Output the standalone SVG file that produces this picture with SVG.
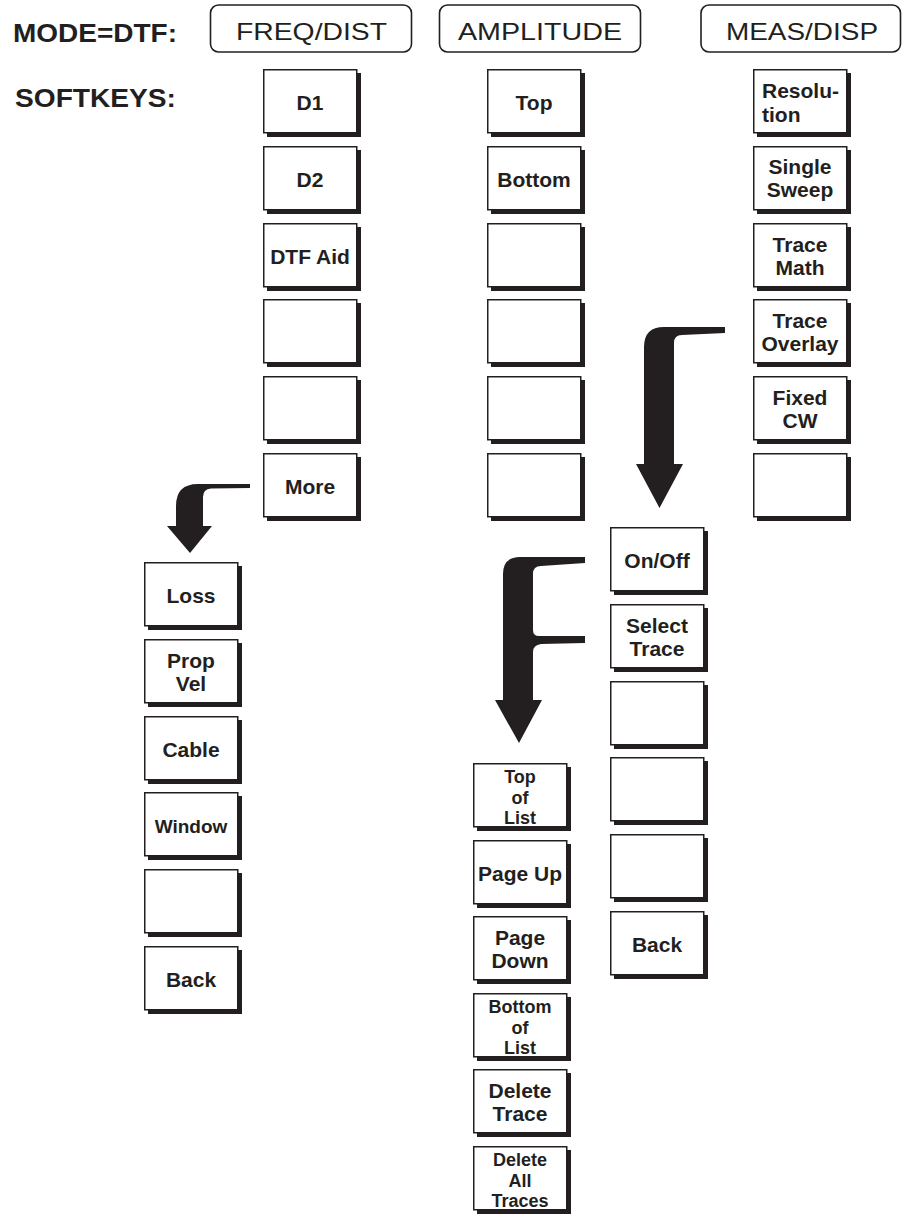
<svg xmlns="http://www.w3.org/2000/svg" width="902" height="1216" viewBox="0 0 902 1216">
<style>
text{font-family:"Liberation Sans",Arial,Helvetica,sans-serif;fill:#231f20}
.lbl{font-size:25px;font-weight:bold}
.mode{font-size:24px;text-anchor:middle}
.k{font-size:21px;font-weight:bold;text-anchor:middle}
.k3{font-size:18px;font-weight:bold;text-anchor:middle}
.kl{font-size:21px;font-weight:bold}
.hdr{fill:#fff;stroke:#231f20;stroke-width:1.6}
.sh{fill:#231f20}
.key{fill:#fff;stroke:#231f20;stroke-width:1.5}
.arrow{fill:#231f20;stroke:none}
</style>
<defs>
<g id="softkey"><rect class="sh" x="4" y="4" width="94" height="64"/><rect class="key" x="0.75" y="0.75" width="93" height="63"/></g>
</defs>
<rect width="902" height="1216" fill="#fff"/>

<g id="labels">
<text class="lbl" x="13" y="42" textLength="164" lengthAdjust="spacingAndGlyphs">MODE=DTF:</text>
<text class="lbl" x="15" y="107" textLength="161" lengthAdjust="spacingAndGlyphs">SOFTKEYS:</text>
</g>

<g id="hdr-freq"><rect class="hdr" x="210.5" y="5" width="201" height="47" rx="8"/><text class="mode" x="311.5" y="40" textLength="151" lengthAdjust="spacingAndGlyphs">FREQ/DIST</text></g>
<g id="hdr-ampl"><rect class="hdr" x="439.5" y="5" width="201" height="47" rx="8"/><text class="mode" x="540" y="40" textLength="164" lengthAdjust="spacingAndGlyphs">AMPLITUDE</text></g>
<g id="hdr-meas"><rect class="hdr" x="701" y="5" width="199.5" height="47" rx="8"/><text class="mode" x="802" y="40" textLength="152" lengthAdjust="spacingAndGlyphs">MEAS/DISP</text></g>

<g id="connectors">
<path class="arrow" d="M250,484 L198,484 Q176,484 176,506 L176,526 L167,526 L190,553 L212,526 L203,526 L203,497 Q203,489 211,488.5 L250,488 Z"/>
<path class="arrow" d="M725,327 L664,327 Q644,327 644,347 L644,464 L636,464 L659.5,508 L683,464 L674,464 L674,343 Q674,335 682,335 L725,333 Z"/>
<path class="arrow" d="M585,557 L520,557 Q503,557 503,574 L503,700 L495,700 L519,743 L542,700 L533,700 L533,652 Q533,645 541,644 L585,643 L585,636 L539,636 Q533,636 533,630 L533,574 Q533,566 541,566 L585,563 Z"/>
</g>

<!-- FREQ/DIST column -->
<g id="k-d1"><use href="#softkey" x="263" y="69"/><text class="k" x="310" y="110">D1</text></g>
<g id="k-d2"><use href="#softkey" x="263" y="146"/><text class="k" x="310" y="187">D2</text></g>
<g id="k-dtfaid"><use href="#softkey" x="263" y="223"/><text class="k" x="310" y="264">DTF Aid</text></g>
<g id="k-f4"><use href="#softkey" x="263" y="299"/></g>
<g id="k-f5"><use href="#softkey" x="263" y="376"/></g>
<g id="k-more"><use href="#softkey" x="263" y="453"/><text class="k" x="310" y="494">More</text></g>

<!-- AMPLITUDE column -->
<g id="k-top"><use href="#softkey" x="487" y="69"/><text class="k" x="534" y="110">Top</text></g>
<g id="k-bottom"><use href="#softkey" x="487" y="146"/><text class="k" x="534" y="187">Bottom</text></g>
<g id="k-a3"><use href="#softkey" x="487" y="223"/></g>
<g id="k-a4"><use href="#softkey" x="487" y="299"/></g>
<g id="k-a5"><use href="#softkey" x="487" y="376"/></g>
<g id="k-a6"><use href="#softkey" x="487" y="453"/></g>

<!-- MEAS/DISP column -->
<g id="k-resolution"><use href="#softkey" x="753" y="69"/><text class="kl" x="762" y="98">Resolu-</text><text class="kl" x="762" y="122">tion</text></g>
<g id="k-singlesweep"><use href="#softkey" x="753" y="146"/><text class="k" x="800" y="174">Single</text><text class="k" x="800" y="197">Sweep</text></g>
<g id="k-tracemath"><use href="#softkey" x="753" y="223"/><text class="k" x="800" y="252">Trace</text><text class="k" x="800" y="275">Math</text></g>
<g id="k-traceoverlay"><use href="#softkey" x="753" y="299"/><text class="k" x="800" y="328">Trace</text><text class="k" x="800" y="351">Overlay</text></g>
<g id="k-fixedcw"><use href="#softkey" x="753" y="376"/><text class="k" x="800" y="405">Fixed</text><text class="k" x="800" y="428">CW</text></g>
<g id="k-m6"><use href="#softkey" x="753" y="453"/></g>

<!-- More submenu -->
<g id="k-loss"><use href="#softkey" x="144" y="562"/><text class="k" x="191" y="603">Loss</text></g>
<g id="k-propvel"><use href="#softkey" x="144" y="639"/><text class="k" x="191" y="668">Prop</text><text class="k" x="191" y="691">Vel</text></g>
<g id="k-cable"><use href="#softkey" x="144" y="716"/><text class="k" x="191" y="757">Cable</text></g>
<g id="k-window"><use href="#softkey" x="144" y="792"/><text class="k" x="191" y="833" style="font-size:19px">Window</text></g>
<g id="k-l5"><use href="#softkey" x="144" y="869"/></g>
<g id="k-back1"><use href="#softkey" x="144" y="946"/><text class="k" x="191" y="987">Back</text></g>

<!-- Trace Overlay submenu -->
<g id="k-onoff"><use href="#softkey" x="610" y="527"/><text class="k" x="657" y="568">On/Off</text></g>
<g id="k-selecttrace"><use href="#softkey" x="610" y="604"/><text class="k" x="657" y="633">Select</text><text class="k" x="657" y="656">Trace</text></g>
<g id="k-o3"><use href="#softkey" x="610" y="681"/></g>
<g id="k-o4"><use href="#softkey" x="610" y="757"/></g>
<g id="k-o5"><use href="#softkey" x="610" y="834"/></g>
<g id="k-back2"><use href="#softkey" x="610" y="911"/><text class="k" x="657" y="952">Back</text></g>

<!-- Select Trace submenu -->
<g id="k-topoflist"><use href="#softkey" x="473" y="763"/><text class="k3" x="520" y="783">Top</text><text class="k3" x="520" y="803.5">of</text><text class="k3" x="520" y="824">List</text></g>
<g id="k-pageup"><use href="#softkey" x="473" y="840"/><text class="k" x="520" y="881">Page Up</text></g>
<g id="k-pagedown"><use href="#softkey" x="473" y="916"/><text class="k" x="520" y="945">Page</text><text class="k" x="520" y="968">Down</text></g>
<g id="k-bottomoflist"><use href="#softkey" x="473" y="993"/><text class="k3" x="520" y="1013">Bottom</text><text class="k3" x="520" y="1033.5">of</text><text class="k3" x="520" y="1054">List</text></g>
<g id="k-deletetrace"><use href="#softkey" x="473" y="1069"/><text class="k" x="520" y="1098">Delete</text><text class="k" x="520" y="1121">Trace</text></g>
<g id="k-deleteall"><use href="#softkey" x="473" y="1146"/><text class="k3" x="520" y="1166">Delete</text><text class="k3" x="520" y="1186.5">All</text><text class="k3" x="520" y="1207">Traces</text></g>
</svg>
